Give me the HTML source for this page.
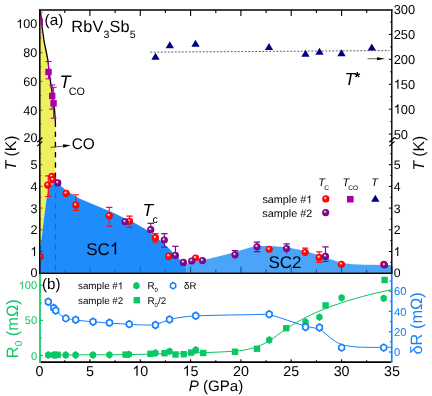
<!DOCTYPE html>
<html><head><meta charset="utf-8"><title>RbV3Sb5 phase diagram</title>
<style>html,body{margin:0;padding:0;background:#fff;}body{width:432px;height:396px;overflow:hidden;font-family:"Liberation Sans",sans-serif;}svg{display:block;will-change:transform;}</style>
</head><body>
<svg xmlns="http://www.w3.org/2000/svg" width="432" height="396" viewBox="0 0 432 396" text-rendering="geometricPrecision">
<defs>
<radialGradient id="gr" cx="0.5" cy="0.5" r="0.5" fx="0.38" fy="0.34"><stop offset="0" stop-color="#fff"/><stop offset="0.12" stop-color="#ffe4e4"/><stop offset="0.3" stop-color="#ff5858"/><stop offset="0.46" stop-color="#ff0a0a"/><stop offset="1" stop-color="#f80000"/></radialGradient>
<radialGradient id="gp" cx="0.5" cy="0.5" r="0.5" fx="0.38" fy="0.34"><stop offset="0" stop-color="#fff"/><stop offset="0.12" stop-color="#f0dcf0"/><stop offset="0.3" stop-color="#a858aa"/><stop offset="0.46" stop-color="#840a8a"/><stop offset="1" stop-color="#7a0082"/></radialGradient>
<clipPath id="cpa"><rect x="40.55" y="10" width="350.6" height="263"/></clipPath>
</defs>
<rect width="432" height="396" fill="#fff"/>
<path d="M40,10 L40.3,10 L42.5,30 L44.2,42 L46.3,52 L47.9,60.3 L49.2,72 L50.8,84 L52.4,95 L53.7,103.5 L54.5,110 L55.1,117 L55.5,124 L55.5,183 L54,183.5 L50.5,185.5 L48.5,188.5 L46.9,196 L44.3,216 L41.9,236 L40.3,245.8 L40,246 Z" fill="#EFEF60"/>
<path d="M40,272.8 L40,246 L40.3,245.8 L41.9,236 L44.3,216 L46.9,196 L48.5,188.5 L50.5,185.5 L54,183.5 L57.9,182.4 L61.5,186.4 L66,190.2 L70,193 L75,196 L80,198.8 L84,200.4 L96,205.4 L108,210.4 L115,213.6 L122,217 L128,219.7 L133,222 L140,226 L146,229.6 L153,234.8 L159.6,240 L165,244.6 L170,249.4 L172,251.8 L176,255.8 L179.3,259 L183,262.3 L186.2,265.2 L186.2,272.8 Z" fill="#1E8CFA"/>
<path d="M186.2,272.8 L186.2,263.4 L195,261.7 L207,259.3 L218,256.6 L230,253.4 L240,250.6 L250,247.5 L258,246 L270,246 L285,247 L300,249.8 L310,252.5 L320,255.5 L330,259 L341,262.8 L352,264.3 L365,264.8 L392,265 L392,272.8 Z" fill="#4AA5FA"/>
<line x1="64.8" y1="272.8" x2="64.8" y2="269.8" stroke="#1766CC" stroke-width="1.1"/>
<line x1="89.9" y1="272.8" x2="89.9" y2="266.8" stroke="#1766CC" stroke-width="1.1"/>
<line x1="115.1" y1="272.8" x2="115.1" y2="269.8" stroke="#1766CC" stroke-width="1.1"/>
<line x1="140.3" y1="272.8" x2="140.3" y2="266.8" stroke="#1766CC" stroke-width="1.1"/>
<line x1="165.4" y1="272.8" x2="165.4" y2="269.8" stroke="#1766CC" stroke-width="1.1"/>
<line x1="190.6" y1="272.8" x2="190.6" y2="266.8" stroke="#174F9C" stroke-width="1.1"/>
<line x1="215.8" y1="272.8" x2="215.8" y2="269.8" stroke="#174F9C" stroke-width="1.1"/>
<line x1="240.9" y1="272.8" x2="240.9" y2="266.8" stroke="#174F9C" stroke-width="1.1"/>
<line x1="266.1" y1="272.8" x2="266.1" y2="269.8" stroke="#174F9C" stroke-width="1.1"/>
<line x1="291.2" y1="272.8" x2="291.2" y2="266.8" stroke="#174F9C" stroke-width="1.1"/>
<line x1="316.4" y1="272.8" x2="316.4" y2="269.8" stroke="#174F9C" stroke-width="1.1"/>
<line x1="341.6" y1="272.8" x2="341.6" y2="266.8" stroke="#174F9C" stroke-width="1.1"/>
<line x1="366.7" y1="272.8" x2="366.7" y2="269.8" stroke="#174F9C" stroke-width="1.1"/>
<line x1="391.9" y1="272.8" x2="391.9" y2="266.8" stroke="#174F9C" stroke-width="1.1"/>
<line x1="55.45" y1="182.8" x2="55.45" y2="188.2" stroke="#1268E0" stroke-width="1"/>
<line x1="55.45" y1="193.1" x2="55.45" y2="198.4" stroke="#1268E0" stroke-width="1"/>
<line x1="55.45" y1="203.3" x2="55.45" y2="208.7" stroke="#1268E0" stroke-width="1"/>
<line x1="55.45" y1="213.6" x2="55.45" y2="218.9" stroke="#1268E0" stroke-width="1"/>
<line x1="55.45" y1="223.8" x2="55.45" y2="229.2" stroke="#1268E0" stroke-width="1"/>
<line x1="55.45" y1="234.1" x2="55.45" y2="239.4" stroke="#1268E0" stroke-width="1"/>
<line x1="55.45" y1="244.3" x2="55.45" y2="249.7" stroke="#1268E0" stroke-width="1"/>
<line x1="55.45" y1="254.6" x2="55.45" y2="259.9" stroke="#1268E0" stroke-width="1"/>
<line x1="55.45" y1="264.9" x2="55.45" y2="270.2" stroke="#1268E0" stroke-width="1"/>
<path d="M40.3,10 L42.5,30 L44.2,42 L46.3,52 L47.9,60.3 L49.2,72 L50.8,84 L52.4,95 L53.7,103.5 L54.4,108" fill="none" stroke="#000" stroke-width="1.3"/>
<path d="M54.4,108 L55.1,117 L55.45,124 L55.45,127" fill="none" stroke="#000" stroke-width="1.3"/>
<line x1="55.45" y1="131.6" x2="55.45" y2="136.9" stroke="#000" stroke-width="1.35"/>
<line x1="55.45" y1="141.8" x2="55.45" y2="147.2" stroke="#000" stroke-width="1.35"/>
<line x1="55.45" y1="152.1" x2="55.45" y2="157.4" stroke="#000" stroke-width="1.35"/>
<line x1="55.45" y1="162.3" x2="55.45" y2="167.7" stroke="#000" stroke-width="1.35"/>
<line x1="55.45" y1="172.6" x2="55.45" y2="177.9" stroke="#000" stroke-width="1.35"/>
<line x1="150.3" y1="52.15" x2="389.5" y2="50.6" stroke="#404040" stroke-width="0.85" stroke-dasharray="1.9,1.6"/>
<line x1="39.05" y1="10.0" x2="392.5" y2="10.0" stroke="#000" stroke-width="1.6"/>
<line x1="39.8" y1="9.2" x2="39.8" y2="273.5" stroke="#000" stroke-width="1.5"/>
<line x1="391.8" y1="9.2" x2="391.8" y2="273.5" stroke="#000" stroke-width="1.4"/>
<line x1="39.05" y1="273.28" x2="392.5" y2="273.28" stroke="#000" stroke-width="1.45"/>
<line x1="40.0" y1="274.0" x2="40.0" y2="362.9" stroke="#08C764" stroke-width="1.7"/>
<line x1="391.75" y1="274.0" x2="391.75" y2="362.9" stroke="#1680F8" stroke-width="1.65"/>
<line x1="40.85" y1="362.1" x2="390.9" y2="362.1" stroke="#000" stroke-width="1.55"/>
<line x1="64.8" y1="10" x2="64.8" y2="13" stroke="#000" stroke-width="1.1"/>
<line x1="89.9" y1="10" x2="89.9" y2="16" stroke="#000" stroke-width="1.1"/>
<line x1="115.1" y1="10" x2="115.1" y2="13" stroke="#000" stroke-width="1.1"/>
<line x1="140.3" y1="10" x2="140.3" y2="16" stroke="#000" stroke-width="1.1"/>
<line x1="165.4" y1="10" x2="165.4" y2="13" stroke="#000" stroke-width="1.1"/>
<line x1="190.6" y1="10" x2="190.6" y2="16" stroke="#000" stroke-width="1.1"/>
<line x1="215.8" y1="10" x2="215.8" y2="13" stroke="#000" stroke-width="1.1"/>
<line x1="240.9" y1="10" x2="240.9" y2="16" stroke="#000" stroke-width="1.1"/>
<line x1="266.1" y1="10" x2="266.1" y2="13" stroke="#000" stroke-width="1.1"/>
<line x1="291.2" y1="10" x2="291.2" y2="16" stroke="#000" stroke-width="1.1"/>
<line x1="316.4" y1="10" x2="316.4" y2="13" stroke="#000" stroke-width="1.1"/>
<line x1="341.6" y1="10" x2="341.6" y2="16" stroke="#000" stroke-width="1.1"/>
<line x1="366.7" y1="10" x2="366.7" y2="13" stroke="#000" stroke-width="1.1"/>
<line x1="64.8" y1="362.1" x2="64.8" y2="360.3" stroke="#000" stroke-width="1.1"/>
<line x1="89.9" y1="362.1" x2="89.9" y2="359.3" stroke="#000" stroke-width="1.1"/>
<line x1="115.1" y1="362.1" x2="115.1" y2="360.3" stroke="#000" stroke-width="1.1"/>
<line x1="140.3" y1="362.1" x2="140.3" y2="359.3" stroke="#000" stroke-width="1.1"/>
<line x1="165.4" y1="362.1" x2="165.4" y2="360.3" stroke="#000" stroke-width="1.1"/>
<line x1="190.6" y1="362.1" x2="190.6" y2="359.3" stroke="#000" stroke-width="1.1"/>
<line x1="215.8" y1="362.1" x2="215.8" y2="360.3" stroke="#000" stroke-width="1.1"/>
<line x1="240.9" y1="362.1" x2="240.9" y2="359.3" stroke="#000" stroke-width="1.1"/>
<line x1="266.1" y1="362.1" x2="266.1" y2="360.3" stroke="#000" stroke-width="1.1"/>
<line x1="291.2" y1="362.1" x2="291.2" y2="359.3" stroke="#000" stroke-width="1.1"/>
<line x1="316.4" y1="362.1" x2="316.4" y2="360.3" stroke="#000" stroke-width="1.1"/>
<line x1="341.6" y1="362.1" x2="341.6" y2="359.3" stroke="#000" stroke-width="1.1"/>
<line x1="366.7" y1="362.1" x2="366.7" y2="360.3" stroke="#000" stroke-width="1.1"/>
<line x1="39.8" y1="138.8" x2="42.4" y2="138.8" stroke="#4a4a12" stroke-width="0.9"/>
<line x1="39.8" y1="124.4" x2="41.4" y2="124.4" stroke="#4a4a12" stroke-width="0.9"/>
<line x1="39.8" y1="110.1" x2="42.4" y2="110.1" stroke="#4a4a12" stroke-width="0.9"/>
<line x1="39.8" y1="95.7" x2="41.4" y2="95.7" stroke="#4a4a12" stroke-width="0.9"/>
<line x1="39.8" y1="81.3" x2="42.4" y2="81.3" stroke="#4a4a12" stroke-width="0.9"/>
<line x1="39.8" y1="66.9" x2="41.4" y2="66.9" stroke="#4a4a12" stroke-width="0.9"/>
<line x1="39.8" y1="52.6" x2="42.4" y2="52.6" stroke="#4a4a12" stroke-width="0.9"/>
<line x1="39.8" y1="38.2" x2="41.4" y2="38.2" stroke="#4a4a12" stroke-width="0.9"/>
<line x1="39.8" y1="23.8" x2="42.4" y2="23.8" stroke="#4a4a12" stroke-width="0.9"/>
<line x1="39.8" y1="9.4" x2="41.4" y2="9.4" stroke="#4a4a12" stroke-width="0.9"/>
<line x1="39.8" y1="262.3" x2="41.4" y2="262.3" stroke="#0c3a78" stroke-width="0.9"/>
<line x1="39.8" y1="251.5" x2="42.4" y2="251.5" stroke="#0c3a78" stroke-width="0.9"/>
<line x1="39.8" y1="240.6" x2="41.4" y2="240.6" stroke="#4a4a12" stroke-width="0.9"/>
<line x1="39.8" y1="229.8" x2="42.4" y2="229.8" stroke="#4a4a12" stroke-width="0.9"/>
<line x1="39.8" y1="218.9" x2="41.4" y2="218.9" stroke="#4a4a12" stroke-width="0.9"/>
<line x1="39.8" y1="208.1" x2="42.4" y2="208.1" stroke="#4a4a12" stroke-width="0.9"/>
<line x1="39.8" y1="197.2" x2="41.4" y2="197.2" stroke="#4a4a12" stroke-width="0.9"/>
<line x1="39.8" y1="186.4" x2="42.4" y2="186.4" stroke="#4a4a12" stroke-width="0.9"/>
<line x1="39.8" y1="175.6" x2="41.4" y2="175.6" stroke="#4a4a12" stroke-width="0.9"/>
<line x1="39.8" y1="164.7" x2="42.4" y2="164.7" stroke="#4a4a12" stroke-width="0.9"/>
<line x1="39.8" y1="153.8" x2="41.4" y2="153.8" stroke="#4a4a12" stroke-width="0.9"/>
<line x1="391.8" y1="134.1" x2="388.8" y2="134.1" stroke="#000" stroke-width="1"/>
<line x1="391.8" y1="121.6" x2="390.2" y2="121.6" stroke="#000" stroke-width="1"/>
<line x1="391.8" y1="109.2" x2="388.8" y2="109.2" stroke="#000" stroke-width="1"/>
<line x1="391.8" y1="96.7" x2="390.2" y2="96.7" stroke="#000" stroke-width="1"/>
<line x1="391.8" y1="84.3" x2="388.8" y2="84.3" stroke="#000" stroke-width="1"/>
<line x1="391.8" y1="71.8" x2="390.2" y2="71.8" stroke="#000" stroke-width="1"/>
<line x1="391.8" y1="59.3" x2="388.8" y2="59.3" stroke="#000" stroke-width="1"/>
<line x1="391.8" y1="46.9" x2="390.2" y2="46.9" stroke="#000" stroke-width="1"/>
<line x1="391.8" y1="34.4" x2="388.8" y2="34.4" stroke="#000" stroke-width="1"/>
<line x1="391.8" y1="22.0" x2="390.2" y2="22.0" stroke="#000" stroke-width="1"/>
<line x1="391.8" y1="262.3" x2="390.2" y2="262.3" stroke="#000" stroke-width="1"/>
<line x1="391.8" y1="251.5" x2="388.8" y2="251.5" stroke="#000" stroke-width="1"/>
<line x1="391.8" y1="240.6" x2="390.2" y2="240.6" stroke="#000" stroke-width="1"/>
<line x1="391.8" y1="229.8" x2="388.8" y2="229.8" stroke="#000" stroke-width="1"/>
<line x1="391.8" y1="218.9" x2="390.2" y2="218.9" stroke="#000" stroke-width="1"/>
<line x1="391.8" y1="208.1" x2="388.8" y2="208.1" stroke="#000" stroke-width="1"/>
<line x1="391.8" y1="197.2" x2="390.2" y2="197.2" stroke="#000" stroke-width="1"/>
<line x1="391.8" y1="186.4" x2="388.8" y2="186.4" stroke="#000" stroke-width="1"/>
<line x1="391.8" y1="175.6" x2="390.2" y2="175.6" stroke="#000" stroke-width="1"/>
<line x1="391.8" y1="164.7" x2="388.8" y2="164.7" stroke="#000" stroke-width="1"/>
<line x1="391.8" y1="153.8" x2="390.2" y2="153.8" stroke="#000" stroke-width="1"/>
<line x1="37.2" y1="142.2" x2="42.400000000000006" y2="137.5" stroke="#000" stroke-width="1.15"/>
<line x1="37.2" y1="146.1" x2="42.400000000000006" y2="141.4" stroke="#000" stroke-width="1.15"/>
<line x1="389.3" y1="142.2" x2="394.5" y2="137.5" stroke="#000" stroke-width="1.15"/>
<line x1="389.3" y1="146.1" x2="394.5" y2="141.4" stroke="#000" stroke-width="1.15"/>
<line x1="40.0" y1="355.5" x2="43.0" y2="355.5" stroke="#08C764" stroke-width="1.25"/>
<line x1="40.0" y1="337.9" x2="41.9" y2="337.9" stroke="#08C764" stroke-width="1.25"/>
<line x1="40.0" y1="320.4" x2="43.0" y2="320.4" stroke="#08C764" stroke-width="1.25"/>
<line x1="40.0" y1="302.9" x2="41.9" y2="302.9" stroke="#08C764" stroke-width="1.25"/>
<line x1="40.0" y1="285.3" x2="43.0" y2="285.3" stroke="#08C764" stroke-width="1.25"/>
<line x1="391.75" y1="352.0" x2="388.75" y2="352.0" stroke="#1680F8" stroke-width="1.25"/>
<line x1="391.75" y1="341.9" x2="389.85" y2="341.9" stroke="#1680F8" stroke-width="1.25"/>
<line x1="391.75" y1="331.7" x2="388.75" y2="331.7" stroke="#1680F8" stroke-width="1.25"/>
<line x1="391.75" y1="321.6" x2="389.85" y2="321.6" stroke="#1680F8" stroke-width="1.25"/>
<line x1="391.75" y1="311.4" x2="388.75" y2="311.4" stroke="#1680F8" stroke-width="1.25"/>
<line x1="391.75" y1="301.3" x2="389.85" y2="301.3" stroke="#1680F8" stroke-width="1.25"/>
<line x1="391.75" y1="291.2" x2="388.75" y2="291.2" stroke="#1680F8" stroke-width="1.25"/>
<line x1="391.75" y1="281.0" x2="389.85" y2="281.0" stroke="#1680F8" stroke-width="1.25"/>
<text x="23.58" y="142.30" font-family="Liberation Sans, sans-serif" font-size="12.6" fill="#000">2</text>
<text x="30.59" y="142.30" font-family="Liberation Sans, sans-serif" font-size="12.6" fill="#000">0</text>
<text x="23.28" y="114.55" font-family="Liberation Sans, sans-serif" font-size="12.6" fill="#000">4</text>
<text x="30.29" y="114.55" font-family="Liberation Sans, sans-serif" font-size="12.6" fill="#000">0</text>
<text x="23.28" y="85.80" font-family="Liberation Sans, sans-serif" font-size="12.6" fill="#000">6</text>
<text x="30.29" y="85.80" font-family="Liberation Sans, sans-serif" font-size="12.6" fill="#000">0</text>
<text x="23.28" y="57.05" font-family="Liberation Sans, sans-serif" font-size="12.6" fill="#000">8</text>
<text x="30.29" y="57.05" font-family="Liberation Sans, sans-serif" font-size="12.6" fill="#000">0</text>
<path transform="translate(16.28,28.30) scale(0.00615,-0.00615)" d="M763 0H583V1147Q518 1085 412.5 1023T223 930V1104Q374 1175 487 1276T647 1472H763Z" fill="#000"/>
<text x="23.28" y="28.30" font-family="Liberation Sans, sans-serif" font-size="12.6" fill="#000">0</text>
<text x="30.29" y="28.30" font-family="Liberation Sans, sans-serif" font-size="12.6" fill="#000">0</text>
<text x="30.39" y="277.00" font-family="Liberation Sans, sans-serif" font-size="12.6" fill="#000">0</text>
<path transform="translate(30.39,255.90) scale(0.00615,-0.00615)" d="M763 0H583V1147Q518 1085 412.5 1023T223 930V1104Q374 1175 487 1276T647 1472H763Z" fill="#000"/>
<text x="30.39" y="234.20" font-family="Liberation Sans, sans-serif" font-size="12.6" fill="#000">2</text>
<text x="30.39" y="212.50" font-family="Liberation Sans, sans-serif" font-size="12.6" fill="#000">3</text>
<text x="30.39" y="190.80" font-family="Liberation Sans, sans-serif" font-size="12.6" fill="#000">4</text>
<text x="30.39" y="169.10" font-family="Liberation Sans, sans-serif" font-size="12.6" fill="#000">5</text>
<text x="393.70" y="138.55" font-family="Liberation Sans, sans-serif" font-size="12.9" fill="#000">5</text>
<text x="400.87" y="138.55" font-family="Liberation Sans, sans-serif" font-size="12.9" fill="#000">0</text>
<path transform="translate(393.70,113.63) scale(0.00630,-0.00630)" d="M763 0H583V1147Q518 1085 412.5 1023T223 930V1104Q374 1175 487 1276T647 1472H763Z" fill="#000"/>
<text x="400.87" y="113.63" font-family="Liberation Sans, sans-serif" font-size="12.9" fill="#000">0</text>
<text x="408.05" y="113.63" font-family="Liberation Sans, sans-serif" font-size="12.9" fill="#000">0</text>
<path transform="translate(393.70,88.71) scale(0.00630,-0.00630)" d="M763 0H583V1147Q518 1085 412.5 1023T223 930V1104Q374 1175 487 1276T647 1472H763Z" fill="#000"/>
<text x="400.87" y="88.71" font-family="Liberation Sans, sans-serif" font-size="12.9" fill="#000">5</text>
<text x="408.05" y="88.71" font-family="Liberation Sans, sans-serif" font-size="12.9" fill="#000">0</text>
<text x="393.70" y="63.79" font-family="Liberation Sans, sans-serif" font-size="12.9" fill="#000">2</text>
<text x="400.87" y="63.79" font-family="Liberation Sans, sans-serif" font-size="12.9" fill="#000">0</text>
<text x="408.05" y="63.79" font-family="Liberation Sans, sans-serif" font-size="12.9" fill="#000">0</text>
<text x="393.70" y="38.87" font-family="Liberation Sans, sans-serif" font-size="12.9" fill="#000">2</text>
<text x="400.87" y="38.87" font-family="Liberation Sans, sans-serif" font-size="12.9" fill="#000">5</text>
<text x="408.05" y="38.87" font-family="Liberation Sans, sans-serif" font-size="12.9" fill="#000">0</text>
<text x="393.70" y="13.95" font-family="Liberation Sans, sans-serif" font-size="12.9" fill="#000">3</text>
<text x="400.87" y="13.95" font-family="Liberation Sans, sans-serif" font-size="12.9" fill="#000">0</text>
<text x="408.05" y="13.95" font-family="Liberation Sans, sans-serif" font-size="12.9" fill="#000">0</text>
<text x="393.70" y="277.00" font-family="Liberation Sans, sans-serif" font-size="12.3" fill="#000">0</text>
<path transform="translate(393.70,255.90) scale(0.00601,-0.00601)" d="M763 0H583V1147Q518 1085 412.5 1023T223 930V1104Q374 1175 487 1276T647 1472H763Z" fill="#000"/>
<text x="393.70" y="234.20" font-family="Liberation Sans, sans-serif" font-size="12.3" fill="#000">2</text>
<text x="393.70" y="212.50" font-family="Liberation Sans, sans-serif" font-size="12.3" fill="#000">3</text>
<text x="393.70" y="190.80" font-family="Liberation Sans, sans-serif" font-size="12.3" fill="#000">4</text>
<text x="393.70" y="169.10" font-family="Liberation Sans, sans-serif" font-size="12.3" fill="#000">5</text>
<text x="35.62" y="375.75" font-family="Liberation Sans, sans-serif" font-size="14.3" fill="#000">0</text>
<text x="85.95" y="375.75" font-family="Liberation Sans, sans-serif" font-size="14.3" fill="#000">5</text>
<path transform="translate(132.31,375.75) scale(0.00698,-0.00698)" d="M763 0H583V1147Q518 1085 412.5 1023T223 930V1104Q374 1175 487 1276T647 1472H763Z" fill="#000"/>
<text x="140.26" y="375.75" font-family="Liberation Sans, sans-serif" font-size="14.3" fill="#000">0</text>
<path transform="translate(182.64,375.75) scale(0.00698,-0.00698)" d="M763 0H583V1147Q518 1085 412.5 1023T223 930V1104Q374 1175 487 1276T647 1472H763Z" fill="#000"/>
<text x="190.59" y="375.75" font-family="Liberation Sans, sans-serif" font-size="14.3" fill="#000">5</text>
<text x="232.97" y="375.75" font-family="Liberation Sans, sans-serif" font-size="14.3" fill="#000">2</text>
<text x="240.92" y="375.75" font-family="Liberation Sans, sans-serif" font-size="14.3" fill="#000">0</text>
<text x="283.30" y="375.75" font-family="Liberation Sans, sans-serif" font-size="14.3" fill="#000">2</text>
<text x="291.25" y="375.75" font-family="Liberation Sans, sans-serif" font-size="14.3" fill="#000">5</text>
<text x="333.63" y="375.75" font-family="Liberation Sans, sans-serif" font-size="14.3" fill="#000">3</text>
<text x="341.58" y="375.75" font-family="Liberation Sans, sans-serif" font-size="14.3" fill="#000">0</text>
<text x="383.96" y="375.75" font-family="Liberation Sans, sans-serif" font-size="14.3" fill="#000">3</text>
<text x="391.91" y="375.75" font-family="Liberation Sans, sans-serif" font-size="14.3" fill="#000">5</text>
<text x="31.03" y="359.50" font-family="Liberation Sans, sans-serif" font-size="11.1" fill="#08C764">0</text>
<text x="24.85" y="324.40" font-family="Liberation Sans, sans-serif" font-size="11.1" fill="#08C764">5</text>
<text x="31.03" y="324.40" font-family="Liberation Sans, sans-serif" font-size="11.1" fill="#08C764">0</text>
<path transform="translate(18.68,289.30) scale(0.00542,-0.00542)" d="M763 0H583V1147Q518 1085 412.5 1023T223 930V1104Q374 1175 487 1276T647 1472H763Z" fill="#08C764"/>
<text x="24.85" y="289.30" font-family="Liberation Sans, sans-serif" font-size="11.1" fill="#08C764">0</text>
<text x="31.03" y="289.30" font-family="Liberation Sans, sans-serif" font-size="11.1" fill="#08C764">0</text>
<text x="393.90" y="356.10" font-family="Liberation Sans, sans-serif" font-size="11.3" fill="#1680F8">0</text>
<text x="393.90" y="335.82" font-family="Liberation Sans, sans-serif" font-size="11.3" fill="#1680F8">2</text>
<text x="400.19" y="335.82" font-family="Liberation Sans, sans-serif" font-size="11.3" fill="#1680F8">0</text>
<text x="393.90" y="315.54" font-family="Liberation Sans, sans-serif" font-size="11.3" fill="#1680F8">4</text>
<text x="400.19" y="315.54" font-family="Liberation Sans, sans-serif" font-size="11.3" fill="#1680F8">0</text>
<text x="393.90" y="295.26" font-family="Liberation Sans, sans-serif" font-size="11.3" fill="#1680F8">6</text>
<text x="400.19" y="295.26" font-family="Liberation Sans, sans-serif" font-size="11.3" fill="#1680F8">0</text>
<text transform="translate(16.3,153) rotate(-90)" font-family="Liberation Sans, sans-serif" font-size="15.6" fill="#000" text-anchor="middle"><tspan font-style="italic">T</tspan> (K)</text>
<text transform="translate(424.4,153.2) rotate(-90)" font-family="Liberation Sans, sans-serif" font-size="15.6" fill="#000" text-anchor="middle"><tspan font-style="italic">T</tspan> (K)</text>
<text transform="translate(17.6,328.8) rotate(-90)" font-family="Liberation Sans, sans-serif" font-size="16.4" fill="#08C764" text-anchor="middle">R<tspan font-size="10" dy="4">0</tspan><tspan dy="-4"> (mΩ)</tspan></text>
<text transform="translate(422.0,323.4) rotate(-90)" font-family="Liberation Sans, sans-serif" font-size="16.4" fill="#1680F8" text-anchor="middle">δR (mΩ)</text>
<text x="216" y="390.5" font-family="Liberation Sans, sans-serif" font-size="15.1" fill="#000" text-anchor="middle"><tspan font-style="italic">P</tspan> (GPa)</text>
<text x="44.6" y="25.2" font-family="Liberation Sans, sans-serif" font-size="15.3" fill="#000" text-anchor="start" >(a)</text>
<text x="41.9" y="288.5" font-family="Liberation Sans, sans-serif" font-size="15.2" fill="#000" text-anchor="start" >(b)</text>
<text x="71.3" y="32.2" font-family="Liberation Sans, sans-serif" font-size="16.3" letter-spacing="0.15" fill="#000">RbV<tspan font-size="10.6" dy="5.5">3</tspan><tspan dy="-5.5">Sb</tspan><tspan font-size="10.6" dy="5.5">5</tspan></text>
<text x="59.4" y="88.3" font-family="Liberation Sans, sans-serif" font-size="18" fill="#000"><tspan font-style="italic">T</tspan><tspan font-size="10.8" dy="6.6" dx="-1.6">CO</tspan></text>
<text x="71.7" y="148.7" font-family="Liberation Sans, sans-serif" font-size="15.4" fill="#000" text-anchor="start" >CO</text>
<text x="344.6" y="85" font-family="Liberation Sans, sans-serif" font-size="17.5" fill="#000" font-style="italic">T</text>
<text x="354.6" y="82.0" font-family="Liberation Sans, sans-serif" font-size="14.5" font-weight="bold" fill="#000">*</text>
<text x="142.6" y="216.1" font-family="Liberation Sans, sans-serif" font-size="17.5" fill="#000"><tspan font-style="italic">T</tspan><tspan font-size="10.5" dy="6.6" dx="-0.7">c</tspan></text>
<text x="86.2" y="254.5" font-family="Liberation Sans, sans-serif" font-size="17" fill="#000" text-anchor="start" >SC</text>
<path transform="translate(109.82,254.50) scale(0.00830,-0.00830)" d="M763 0H583V1147Q518 1085 412.5 1023T223 930V1104Q374 1175 487 1276T647 1472H763Z" fill="#000"/>
<text x="268.4" y="267.6" font-family="Liberation Sans, sans-serif" font-size="17" fill="#000" text-anchor="start" >SC2</text>
<line x1="50.6" y1="147.4" x2="64" y2="146.0" stroke="#222" stroke-width="0.75"/>
<path d="M70.8,145.2 L62.96,144.3 L63.32,147.8 Z" fill="#000"/>
<line x1="367.5" y1="58.7" x2="378" y2="58.7" stroke="#222" stroke-width="0.7"/>
<path d="M385.2,58.7 L377,57.2 L377,60.2 Z" fill="#000"/>
<path d="M155.5,52.650000000000006 L159.65,59.75 L151.35,59.75 Z" fill="#000080"/>
<path d="M169.8,41.150000000000006 L173.95000000000002,48.25 L165.65,48.25 Z" fill="#000080"/>
<path d="M195.5,39.650000000000006 L199.65,46.75 L191.35,46.75 Z" fill="#000080"/>
<path d="M269,42.95 L273.15,50.05 L264.85,50.05 Z" fill="#000080"/>
<path d="M305.5,49.650000000000006 L309.65,56.75 L301.35,56.75 Z" fill="#000080"/>
<path d="M319.5,47.650000000000006 L323.65,54.75 L315.35,54.75 Z" fill="#000080"/>
<path d="M341.5,49.150000000000006 L345.65,56.25 L337.35,56.25 Z" fill="#000080"/>
<path d="M371.8,43.45 L375.95,50.55 L367.65000000000003,50.55 Z" fill="#000080"/>
<g clip-path="url(#cpa)">
<path d="M39.7,12.3 L39.7,32.3 M36.400000000000006,12.3 L43.0,12.3 M36.400000000000006,32.3 L43.0,32.3" stroke="#C040C0" stroke-width="0.9" fill="none"/>
<rect x="36.400000000000006" y="18.3" width="6.6" height="6.6" fill="#AA00AA"/>
</g>
<path d="M48.5,61.5 L48.5,78.9 M45.5,61.5 L51.5,61.5 M45.5,78.9 L51.5,78.9" stroke="#AA00AA" stroke-width="1" fill="none"/>
<rect x="45.3" y="68.8" width="6.4" height="6.4" fill="#AA00AA"/>
<path d="M52.2,84.9 L52.2,109.2 M49.2,84.9 L55.2,84.9 M49.2,109.2 L55.2,109.2" stroke="#AA00AA" stroke-width="1" fill="none"/>
<path d="M53.6,87.3 L53.6,118.2 M50.6,87.3 L56.6,87.3 M50.6,118.2 L56.6,118.2" stroke="#AA00AA" stroke-width="1" fill="none"/>
<rect x="49.0" y="92.8" width="6.4" height="6.4" fill="#AA00AA"/>
<rect x="50.4" y="100.1" width="6.4" height="6.4" fill="#AA00AA"/>
<g clip-path="url(#cpa)">
<path d="M48.3,175.9 L48.3,196.5 M45.15,175.9 L51.449999999999996,175.9 M45.15,196.5 L51.449999999999996,196.5" stroke="#FF1010" stroke-width="1.15" fill="none"/>
<path d="M75.8,194.70000000000002 L75.8,210.3 M72.64999999999999,194.70000000000002 L78.95,194.70000000000002 M72.64999999999999,210.3 L78.95,210.3" stroke="#FF1010" stroke-width="1.15" fill="none"/>
<path d="M109.25,207.3 L109.25,226.05 M106.1,207.3 L112.4,207.3 M106.1,226.05 L112.4,226.05" stroke="#FF1010" stroke-width="1.15" fill="none"/>
<path d="M129.5,216.05 L129.5,227.3 M126.35,216.05 L132.65,216.05 M126.35,227.3 L132.65,227.3" stroke="#FF1010" stroke-width="1.15" fill="none"/>
<path d="M155.4,233.60000000000002 L155.4,242.20000000000002 M152.25,233.60000000000002 L158.55,233.60000000000002 M152.25,242.20000000000002 L158.55,242.20000000000002" stroke="#FF1010" stroke-width="1.15" fill="none"/>
<path d="M168.8,253.60000000000002 L168.8,258.8 M165.65,253.60000000000002 L171.95000000000002,253.60000000000002 M165.65,258.8 L171.95000000000002,258.8" stroke="#FF1010" stroke-width="1.15" fill="none"/>
<path d="M305.2,248.10000000000002 L305.2,254 M302.05,248.10000000000002 L308.34999999999997,248.10000000000002" stroke="#FF1010" stroke-width="1.15" fill="none"/>
<path d="M319.2,251.9 L319.2,262.3 M316.05,251.9 L322.34999999999997,251.9 M316.05,262.3 L322.34999999999997,262.3" stroke="#FF1010" stroke-width="1.15" fill="none"/>
<circle cx="40.1" cy="256.7" r="3.6" fill="url(#gr)"/>
<circle cx="51.9" cy="176.4" r="3.6" fill="url(#gr)"/>
<circle cx="52.8" cy="179.8" r="3.6" fill="url(#gr)"/>
<circle cx="47.7" cy="185.1" r="3.6" fill="url(#gr)"/>
<circle cx="66.1" cy="193.3" r="3.6" fill="url(#gr)"/>
<circle cx="75.8" cy="205.1" r="3.6" fill="url(#gr)"/>
<circle cx="109.25" cy="215.75" r="3.6" fill="url(#gr)"/>
<circle cx="129.5" cy="221.25" r="3.6" fill="url(#gr)"/>
<circle cx="155.4" cy="237.7" r="3.6" fill="url(#gr)"/>
<circle cx="168.8" cy="256.1" r="3.6" fill="url(#gr)"/>
<circle cx="195.6" cy="258" r="3.6" fill="url(#gr)"/>
<circle cx="269.2" cy="249.25" r="3.6" fill="url(#gr)"/>
<circle cx="305.2" cy="252.3" r="3.6" fill="url(#gr)"/>
<circle cx="319.2" cy="257.4" r="3.6" fill="url(#gr)"/>
<circle cx="341.4" cy="264.3" r="3.6" fill="url(#gr)"/>
<circle cx="383.7" cy="264.3" r="3.6" fill="url(#gr)"/>
<path d="M150.75,223.4 L150.75,231.3 M147.6,223.4 L153.9,223.4 M147.6,231.3 L153.9,231.3" stroke="#7B0A8C" stroke-width="1.15" fill="none"/>
<path d="M164.3,233.60000000000002 L164.3,247.20000000000002 M161.15,233.60000000000002 L167.45000000000002,233.60000000000002 M161.15,247.20000000000002 L167.45000000000002,247.20000000000002" stroke="#7B0A8C" stroke-width="1.15" fill="none"/>
<path d="M175.4,246.4 L175.4,257.3 M172.25,246.4 L178.55,246.4 M172.25,257.3 L178.55,257.3" stroke="#7B0A8C" stroke-width="1.15" fill="none"/>
<path d="M235,250.60000000000002 L235,257 M231.85,250.60000000000002 L238.15,250.60000000000002" stroke="#7B0A8C" stroke-width="1.15" fill="none"/>
<path d="M257,242.05 L257,251.55 M253.85,242.05 L260.15,242.05 M253.85,251.55 L260.15,251.55" stroke="#7B0A8C" stroke-width="1.15" fill="none"/>
<path d="M286.6,243.9 L286.6,253.5 M283.45000000000005,243.9 L289.75,243.9" stroke="#7B0A8C" stroke-width="1.15" fill="none"/>
<path d="M325.5,246.9 L325.5,261.5 M322.35,246.9 L328.65,246.9 M322.35,261.5 L328.65,261.5" stroke="#7B0A8C" stroke-width="1.15" fill="none"/>
<circle cx="57.8" cy="182.9" r="3.6" fill="url(#gp)"/>
<circle cx="125" cy="221.75" r="3.6" fill="url(#gp)"/>
<circle cx="150.75" cy="229.7" r="3.6" fill="url(#gp)"/>
<circle cx="164.3" cy="240.0" r="3.6" fill="url(#gp)"/>
<circle cx="175.4" cy="255.3" r="3.6" fill="url(#gp)"/>
<circle cx="183.4" cy="262.4" r="3.6" fill="url(#gp)"/>
<circle cx="191.7" cy="261" r="3.6" fill="url(#gp)"/>
<circle cx="202.5" cy="260.6" r="3.6" fill="url(#gp)"/>
<circle cx="235" cy="254.8" r="3.6" fill="url(#gp)"/>
<circle cx="257" cy="246.75" r="3.6" fill="url(#gp)"/>
<circle cx="286.6" cy="248.5" r="3.6" fill="url(#gp)"/>
<circle cx="325.5" cy="256.4" r="3.6" fill="url(#gp)"/>
<circle cx="384.5" cy="265.0" r="3.6" fill="url(#gp)"/>
</g>
<text x="306.19" y="203.2" font-family="Liberation Sans, sans-serif" font-size="10.8" fill="#000" text-anchor="end">sample #</text>
<path transform="translate(306.19,203.20) scale(0.00527,-0.00527)" d="M763 0H583V1147Q518 1085 412.5 1023T223 930V1104Q374 1175 487 1276T647 1472H763Z" fill="#000"/>
<text x="312.2" y="216.6" font-family="Liberation Sans, sans-serif" font-size="10.8" fill="#000" text-anchor="end">sample #2</text>
<circle cx="325.8" cy="198.9" r="3.6" fill="url(#gr)"/>
<circle cx="325.7" cy="212.6" r="3.6" fill="url(#gp)"/>
<rect x="347.0" y="195.89999999999998" width="6.6" height="6.6" fill="#AA00AA"/>
<path d="M375.3,194.64999999999998 L379.5,201.75 L371.1,201.75 Z" fill="#000080"/>
<text x="318.3" y="186.3" font-family="Liberation Sans, sans-serif" font-size="11" fill="#000"><tspan font-style="italic">T</tspan><tspan font-size="6.6" dy="3.8" dx="-0.9">C</tspan></text>
<text x="342.4" y="186.3" font-family="Liberation Sans, sans-serif" font-size="11" fill="#000"><tspan font-style="italic">T</tspan><tspan font-size="6.6" dy="3.8" dx="-0.9">CO</tspan></text>
<text x="371.2" y="186.3" font-family="Liberation Sans, sans-serif" font-size="11" fill="#000" font-style="italic">T</text>
<path d="M48,355 L130,354.6 L170,353.6 L205,352.6 L220,352 L235,351.2 C248,350 258,347.5 269,341 C276,336.5 280,333 286,329 C294,323.8 300,320.5 305,317.8 C320,309.8 350,298 392,289.6" fill="none" stroke="#08C764" stroke-width="1"/>
<path d="M48.25,301.8 C51,306 53,308.5 55.75,310.8 C59,314 62,316.5 65.75,318 C72,320 84,321 93,321.8 C105,322.8 118,323.6 129.25,324.3 C140,325 148,325.3 155.5,324.8 C160,323.5 165,321 169.5,319.5 C178,317.5 186,316.5 195.75,315.8 C215,315.2 245,314.8 269.25,314.3 L305.5,326.2 L319.5,329 C328,335 333,341.5 341.6,344.5 C352,347.6 365,347.6 392,347.2" fill="none" stroke="#1680F8" stroke-width="1"/>
<polygon points="48.25,351.10 45.11,353.05 45.11,356.95 48.25,358.90 51.39,356.95 51.39,353.05" fill="#08C764" stroke="none" stroke-width="0"/>
<polygon points="53.60,351.10 50.46,353.05 50.46,356.95 53.60,358.90 56.74,356.95 56.74,353.05" fill="#08C764" stroke="none" stroke-width="0"/>
<polygon points="56.00,351.10 52.86,353.05 52.86,356.95 56.00,358.90 59.14,356.95 59.14,353.05" fill="#08C764" stroke="none" stroke-width="0"/>
<polygon points="65.70,351.10 62.56,353.05 62.56,356.95 65.70,358.90 68.84,356.95 68.84,353.05" fill="#08C764" stroke="none" stroke-width="0"/>
<polygon points="75.60,351.10 72.46,353.05 72.46,356.95 75.60,358.90 78.74,356.95 78.74,353.05" fill="#08C764" stroke="none" stroke-width="0"/>
<polygon points="92.90,351.10 89.76,353.05 89.76,356.95 92.90,358.90 96.04,356.95 96.04,353.05" fill="#08C764" stroke="none" stroke-width="0"/>
<polygon points="109.40,351.00 106.26,352.95 106.26,356.85 109.40,358.80 112.54,356.85 112.54,352.95" fill="#08C764" stroke="none" stroke-width="0"/>
<polygon points="128.90,350.50 125.76,352.45 125.76,356.35 128.90,358.30 132.04,356.35 132.04,352.45" fill="#08C764" stroke="none" stroke-width="0"/>
<polygon points="155.50,349.10 152.36,351.05 152.36,354.95 155.50,356.90 158.64,354.95 158.64,351.05" fill="#08C764" stroke="none" stroke-width="0"/>
<polygon points="169.50,347.40 166.36,349.35 166.36,353.25 169.50,355.20 172.64,353.25 172.64,349.35" fill="#08C764" stroke="none" stroke-width="0"/>
<polygon points="195.75,346.10 192.61,348.05 192.61,351.95 195.75,353.90 198.89,351.95 198.89,348.05" fill="#08C764" stroke="none" stroke-width="0"/>
<polygon points="269.25,336.10 266.11,338.05 266.11,341.95 269.25,343.90 272.39,341.95 272.39,338.05" fill="#08C764" stroke="none" stroke-width="0"/>
<polygon points="305.50,318.10 302.36,320.05 302.36,323.95 305.50,325.90 308.64,323.95 308.64,320.05" fill="#08C764" stroke="none" stroke-width="0"/>
<polygon points="319.40,313.20 316.26,315.15 316.26,319.05 319.40,321.00 322.54,319.05 322.54,315.15" fill="#08C764" stroke="none" stroke-width="0"/>
<polygon points="341.60,293.90 338.46,295.85 338.46,299.75 341.60,301.70 344.74,299.75 344.74,295.85" fill="#08C764" stroke="none" stroke-width="0"/>
<polygon points="383.70,294.40 380.56,296.35 380.56,300.25 383.70,302.20 386.84,300.25 386.84,296.35" fill="#08C764" stroke="none" stroke-width="0"/>
<rect x="54.4" y="351.6" width="6.4" height="6.4" fill="#08C764"/>
<rect x="122.39999999999999" y="351.40000000000003" width="6.4" height="6.4" fill="#08C764"/>
<rect x="147.3" y="350.6" width="6.4" height="6.4" fill="#08C764"/>
<rect x="161.3" y="350.0" width="6.4" height="6.4" fill="#08C764"/>
<rect x="172.3" y="351.3" width="6.4" height="6.4" fill="#08C764"/>
<rect x="180.55" y="351.0" width="6.4" height="6.4" fill="#08C764"/>
<rect x="188.05" y="349.40000000000003" width="6.4" height="6.4" fill="#08C764"/>
<rect x="200.05" y="349.8" width="6.4" height="6.4" fill="#08C764"/>
<rect x="231.8" y="348.55" width="6.4" height="6.4" fill="#08C764"/>
<rect x="253.8" y="345.55" width="6.4" height="6.4" fill="#08C764"/>
<rect x="283.05" y="325.05" width="6.4" height="6.4" fill="#08C764"/>
<rect x="322.40000000000003" y="302.2" width="6.4" height="6.4" fill="#08C764"/>
<rect x="381.40000000000003" y="276.8" width="6.4" height="6.4" fill="#08C764"/>
<polygon points="48.25,298.30 45.47,300.02 45.47,303.48 48.25,305.20 51.03,303.48 51.03,300.02" fill="#fff" stroke="#1680F8" stroke-width="1.65"/>
<polygon points="53.75,304.55 50.97,306.27 50.97,309.73 53.75,311.45 56.53,309.73 56.53,306.27" fill="#fff" stroke="#1680F8" stroke-width="1.65"/>
<polygon points="55.75,307.05 52.97,308.77 52.97,312.23 55.75,313.95 58.53,312.23 58.53,308.77" fill="#fff" stroke="#1680F8" stroke-width="1.65"/>
<polygon points="65.75,314.95 62.97,316.67 62.97,320.12 65.75,321.85 68.53,320.12 68.53,316.67" fill="#fff" stroke="#1680F8" stroke-width="1.65"/>
<polygon points="75.70,316.35 72.92,318.07 72.92,321.53 75.70,323.25 78.48,321.53 78.48,318.07" fill="#fff" stroke="#1680F8" stroke-width="1.65"/>
<polygon points="93.00,318.30 90.22,320.02 90.22,323.48 93.00,325.20 95.78,323.48 95.78,320.02" fill="#fff" stroke="#1680F8" stroke-width="1.65"/>
<polygon points="109.50,319.30 106.72,321.02 106.72,324.48 109.50,326.20 112.28,324.48 112.28,321.02" fill="#fff" stroke="#1680F8" stroke-width="1.65"/>
<polygon points="129.25,320.75 126.47,322.47 126.47,325.93 129.25,327.65 132.03,325.93 132.03,322.47" fill="#fff" stroke="#1680F8" stroke-width="1.65"/>
<polygon points="155.50,321.55 152.72,323.27 152.72,326.73 155.50,328.45 158.28,326.73 158.28,323.27" fill="#fff" stroke="#1680F8" stroke-width="1.65"/>
<polygon points="169.50,316.05 166.72,317.77 166.72,321.23 169.50,322.95 172.28,321.23 172.28,317.77" fill="#fff" stroke="#1680F8" stroke-width="1.65"/>
<polygon points="195.75,312.30 192.97,314.02 192.97,317.48 195.75,319.20 198.53,317.48 198.53,314.02" fill="#fff" stroke="#1680F8" stroke-width="1.65"/>
<polygon points="269.25,310.80 266.47,312.52 266.47,315.98 269.25,317.70 272.03,315.98 272.03,312.52" fill="#fff" stroke="#1680F8" stroke-width="1.65"/>
<polygon points="305.50,323.55 302.72,325.27 302.72,328.73 305.50,330.45 308.28,328.73 308.28,325.27" fill="#fff" stroke="#1680F8" stroke-width="1.65"/>
<polygon points="319.50,324.05 316.72,325.77 316.72,329.23 319.50,330.95 322.28,329.23 322.28,325.77" fill="#fff" stroke="#1680F8" stroke-width="1.65"/>
<polygon points="341.60,344.15 338.82,345.88 338.82,349.33 341.60,351.05 344.38,349.33 344.38,345.88" fill="#fff" stroke="#1680F8" stroke-width="1.65"/>
<polygon points="383.70,344.15 380.92,345.88 380.92,349.33 383.70,351.05 386.48,349.33 386.48,345.88" fill="#fff" stroke="#1680F8" stroke-width="1.65"/>
<text x="78" y="289.2" font-family="Liberation Sans, sans-serif" font-size="9.8" fill="#000">sample #</text>
<path transform="translate(117.76,289.20) scale(0.00479,-0.00479)" d="M763 0H583V1147Q518 1085 412.5 1023T223 930V1104Q374 1175 487 1276T647 1472H763Z" fill="#000"/>
<text x="78" y="303.8" font-family="Liberation Sans, sans-serif" font-size="9.8" fill="#000">sample #2</text>
<polygon points="136.40,281.80 133.26,283.75 133.26,287.65 136.40,289.60 139.54,287.65 139.54,283.75" fill="#08C764" stroke="none" stroke-width="0"/>
<rect x="133.60000000000002" y="297.0" width="6.4" height="6.4" fill="#08C764"/>
<text x="147.5" y="288.9" font-family="Liberation Sans, sans-serif" font-size="9.8" fill="#000">R<tspan font-size="6" dy="3.0">0</tspan></text>
<text x="147.5" y="303.5" font-family="Liberation Sans, sans-serif" font-size="9.8" fill="#000">R<tspan font-size="6" dy="3.0">0</tspan><tspan dy="-3.0">/2</tspan></text>
<polygon points="173.10,282.50 170.52,284.10 170.52,287.30 173.10,288.90 175.68,287.30 175.68,284.10" fill="#fff" stroke="#1680F8" stroke-width="1.5"/>
<text x="184.1" y="288.9" font-family="Liberation Sans, sans-serif" font-size="9.6" fill="#000">δR</text>
</svg>
</body></html>
